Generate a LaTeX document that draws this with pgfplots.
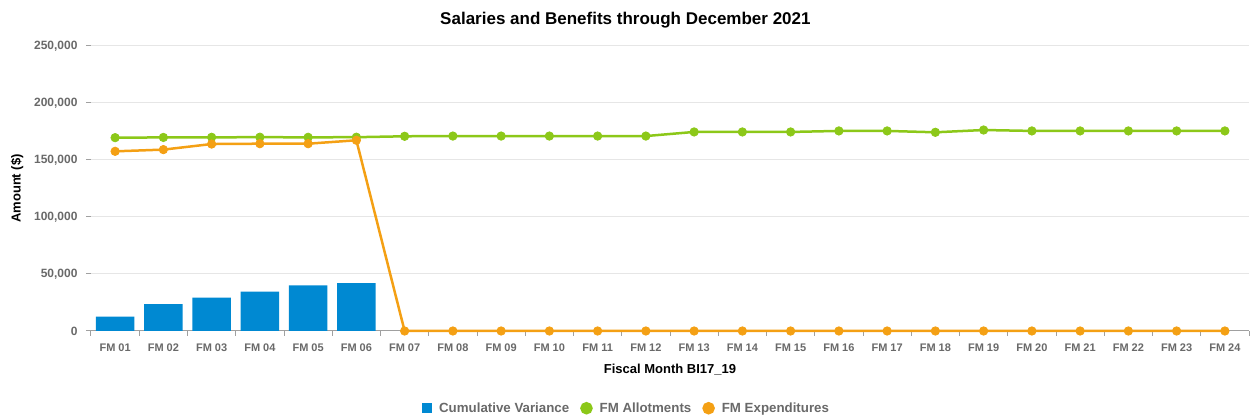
\documentclass[border=0pt]{standalone}
\usepackage{fontspec}
\setmainfont{Liberation Sans}
\usepackage{pgfplots}
\pgfplotsset{compat=1.18}
\definecolor{cvblue}{RGB}{0,137,210}
\definecolor{allotgreen}{RGB}{140,200,25}
\definecolor{expora}{RGB}{244,160,20}
\definecolor{tickgray}{RGB}{105,105,105}
\definecolor{axgray}{RGB}{160,160,160}
\definecolor{gridgray}{RGB}{230,230,230}
\begin{document}
\begin{tikzpicture}
\useasboundingbox (0,0) rectangle (1251pt,417pt);
\begin{axis}[
  at={(91pt,86pt)}, anchor=south west,
  scale only axis, width=1158pt, height=285pt,
  xmin=0.5, xmax=24.5, ymin=0, ymax=250000,
  axis x line*=bottom, axis y line*=left,
  x axis line style={draw=axgray, line width=1pt, -},
  y axis line style={draw=none},
  xtick={1,...,24},
  xticklabels={FM 01,FM 02,FM 03,FM 04,FM 05,FM 06,FM 07,FM 08,FM 09,FM 10,FM 11,FM 12,FM 13,FM 14,FM 15,FM 16,FM 17,FM 18,FM 19,FM 20,FM 21,FM 22,FM 23,FM 24},
  minor xtick={0.5,1.5,...,24.5},
  major x tick style={draw=none},
  minor x tick style={draw=axgray, line width=1pt},
  y tick style={draw=axgray, line width=1pt},
  tick align=outside,
  major tick length=5pt, minor tick length=5pt,
  ytick={0,50000,100000,150000,200000,250000},
  yticklabels={0,{50,000},{100,000},{150,000},{200,000},{250,000}},
  scaled y ticks=false,
  ymajorgrids, grid style={draw=gridgray, line width=1pt},
  tick label style={text=tickgray, font=\bfseries\fontsize{12}{14}\selectfont},
  xticklabel style={font=\bfseries\fontsize{11}{13}\selectfont, yshift=-4pt},
  yticklabel style={xshift=-5pt},
  xlabel={Fiscal Month BI17\textunderscore 19},
  ylabel={Amount (\$)},
  xlabel shift=6pt,
  ylabel shift=4pt,
  label style={font=\bfseries\fontsize{13}{15}\selectfont},
  title={Salaries and Benefits through December 2021},
  title style={at={(axis description cs:0.4615,1.07)}, anchor=center, font=\bfseries\fontsize{17}{20}\selectfont},
  legend style={at={(axis description cs:0.4625,-0.271)}, anchor=center, draw=none, fill=none,
    font=\bfseries\fontsize{13.3}{15}\selectfont, text=tickgray,
    /tikz/every odd column/.append style={column sep=5pt},
    /tikz/every even column/.append style={column sep=9pt}},
  legend columns=3,
  clip=false,
]
\addplot[ybar, bar width=38.5pt, fill=cvblue, draw=none,
  legend image code/.code={\fill[cvblue] (0pt,-5pt) rectangle (10pt,5pt);}]
  coordinates {(1,12570) (2,23680) (3,29240) (4,34500) (5,40060) (6,42100)};
\addlegendentry{Cumulative Variance}
\addplot[allotgreen, line width=2.5pt, mark=*, mark size=4.2pt, mark options={solid, fill=allotgreen, draw=allotgreen, line width=0.8pt},
  legend image code/.code={\fill[allotgreen] (5pt,0pt) circle (5pt);}]
  coordinates {(1,169600) (2,169800) (3,169900) (4,170000) (5,169900) (6,170000) (7,170800) (8,171000) (9,171000) (10,171000) (11,171000) (12,171000) (13,174600) (14,174600) (15,174600) (16,175500) (17,175500) (18,174300) (19,176300) (20,175500) (21,175500) (22,175500) (23,175500) (24,175500)};
\addlegendentry{FM Allotments}
\addplot[expora, line width=2.5pt, mark=*, mark size=4.2pt, mark options={solid, fill=expora, draw=expora, line width=0.8pt},
  legend image code/.code={\fill[expora] (5pt,0pt) circle (5pt);}]
  coordinates {(1,157600) (2,159100) (3,164000) (4,164300) (5,164300) (6,167300) (7,0) (8,0) (9,0) (10,0) (11,0) (12,0) (13,0) (14,0) (15,0) (16,0) (17,0) (18,0) (19,0) (20,0) (21,0) (22,0) (23,0) (24,0)};
\addlegendentry{FM Expenditures}
\end{axis}
\end{tikzpicture}
\end{document}
